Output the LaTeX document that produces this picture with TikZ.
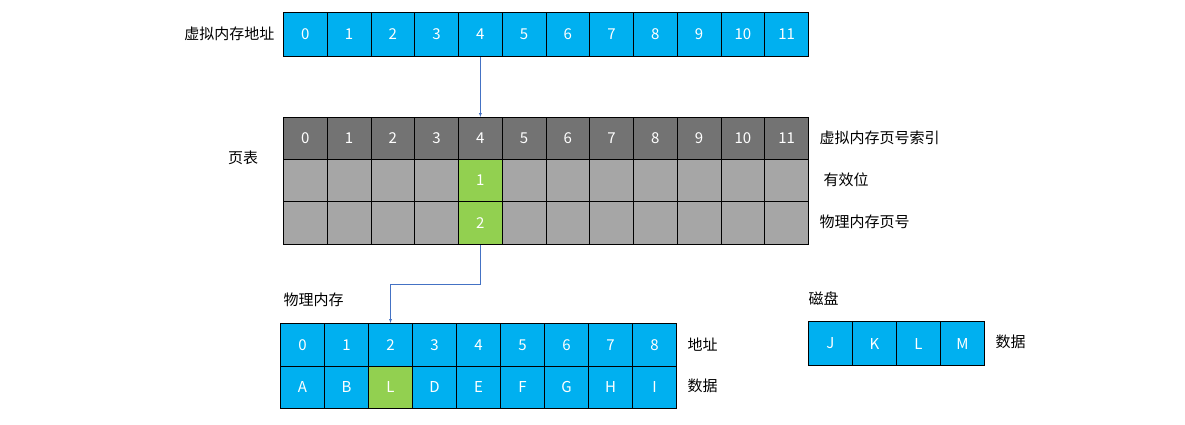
\documentclass[tikz,border=0pt]{standalone}
\usepackage{fontspec}
\setmainfont{Noto Sans CJK SC}
\definecolor{cellblue}{HTML}{00B0F0}
\definecolor{cellgreen}{HTML}{92D050}
\definecolor{celldark}{HTML}{737373}
\definecolor{celllight}{HTML}{A6A6A6}
\definecolor{linkblue}{HTML}{4472C4}
\tikzset{
  cell/.style={draw=black, line width=1pt, minimum width=43.75pt, minimum height=42pt, inner sep=0pt, text=white, font=\fontsize{15}{15}\selectfont, anchor=north west},
  label/.style={font=\fontsize{15}{15}\selectfont, text=black}
}
\begin{document}
\begin{tikzpicture}[x=1pt, y=-1pt]
    \useasboundingbox (0,0) rectangle (1185,424);
    % virtual address
    \foreach \i in {0,...,11}
        \node[cell, fill=cellblue, minimum height=44pt] (v\i) at (283+43.75*\i, 12) {\i};
    \node[label, anchor=east] (vlabel) at (278, 34) {虚拟内存地址};
    % page table
    \foreach \i in {0,...,11}
        \node[cell, fill=celldark] (p\i) at (283+43.75*\i, 117) {\i};
    \foreach \i in {0,...,11}
        \node[cell, fill=celllight] (q\i) at (283+43.75*\i, 159) {};
    \foreach \i in {0,...,11}
        \node[cell, fill=celllight, minimum height=43pt] (r\i) at (283+43.75*\i, 201) {};
    \node[cell, fill=cellgreen] (q4) at (283+43.75*4, 159) {1};
    \node[cell, fill=cellgreen, minimum height=43pt] (r4) at (283+43.75*4, 201) {2};
    \node[label] (ptlabel) at (243, 158) {页表};
    \node[label, anchor=west] (idx) at (816, 138) {虚拟内存页号索引};
    \node[label, anchor=west] (valid) at (820, 180) {有效位};
    \node[label, anchor=west] (ppn) at (816, 222) {物理内存页号};
    % physical memory
    \foreach \i/\t in {0/A,1/B,2/C,3/D,4/E,5/F,6/G,7/H,8/I} {
        \node[cell, fill=cellblue, minimum width=44pt, minimum height=42.5pt] (m\i) at (280+44*\i, 323) {\i};
        \node[cell, fill=cellblue, minimum width=44pt, minimum height=42.5pt] (d\i) at (280+44*\i, 365.5) {\t};
    }
    \node[cell, fill=cellgreen, minimum width=44pt, minimum height=42.5pt] (d2) at (280+44*2, 365.5) {L};
    \node[label, anchor=west] (pmlabel) at (280, 300) {物理内存};
    \node[label, anchor=west] (addr) at (684, 345) {地址};
    \node[label, anchor=west] (data) at (684, 386) {数据};
    % disk
    \foreach \i/\t in {0/J,1/K,2/L,3/M}
        \node[cell, fill=cellblue, minimum width=44pt, minimum height=44pt] (k\i) at (808+44*\i, 321) {\t};
    \node[label, anchor=west] (disk) at (805, 299) {磁盘};
    \node[label, anchor=west] (kdata) at (992, 342) {数据};
    % links
    \draw[linkblue, -latex] (v4.south) -- (p4.north);
    \coordinate (bend) at (r4.south |- 0,284);
    \draw[linkblue, -latex] (r4.south) -- (bend) -| (m2.north);
\end{tikzpicture}
\end{document}
